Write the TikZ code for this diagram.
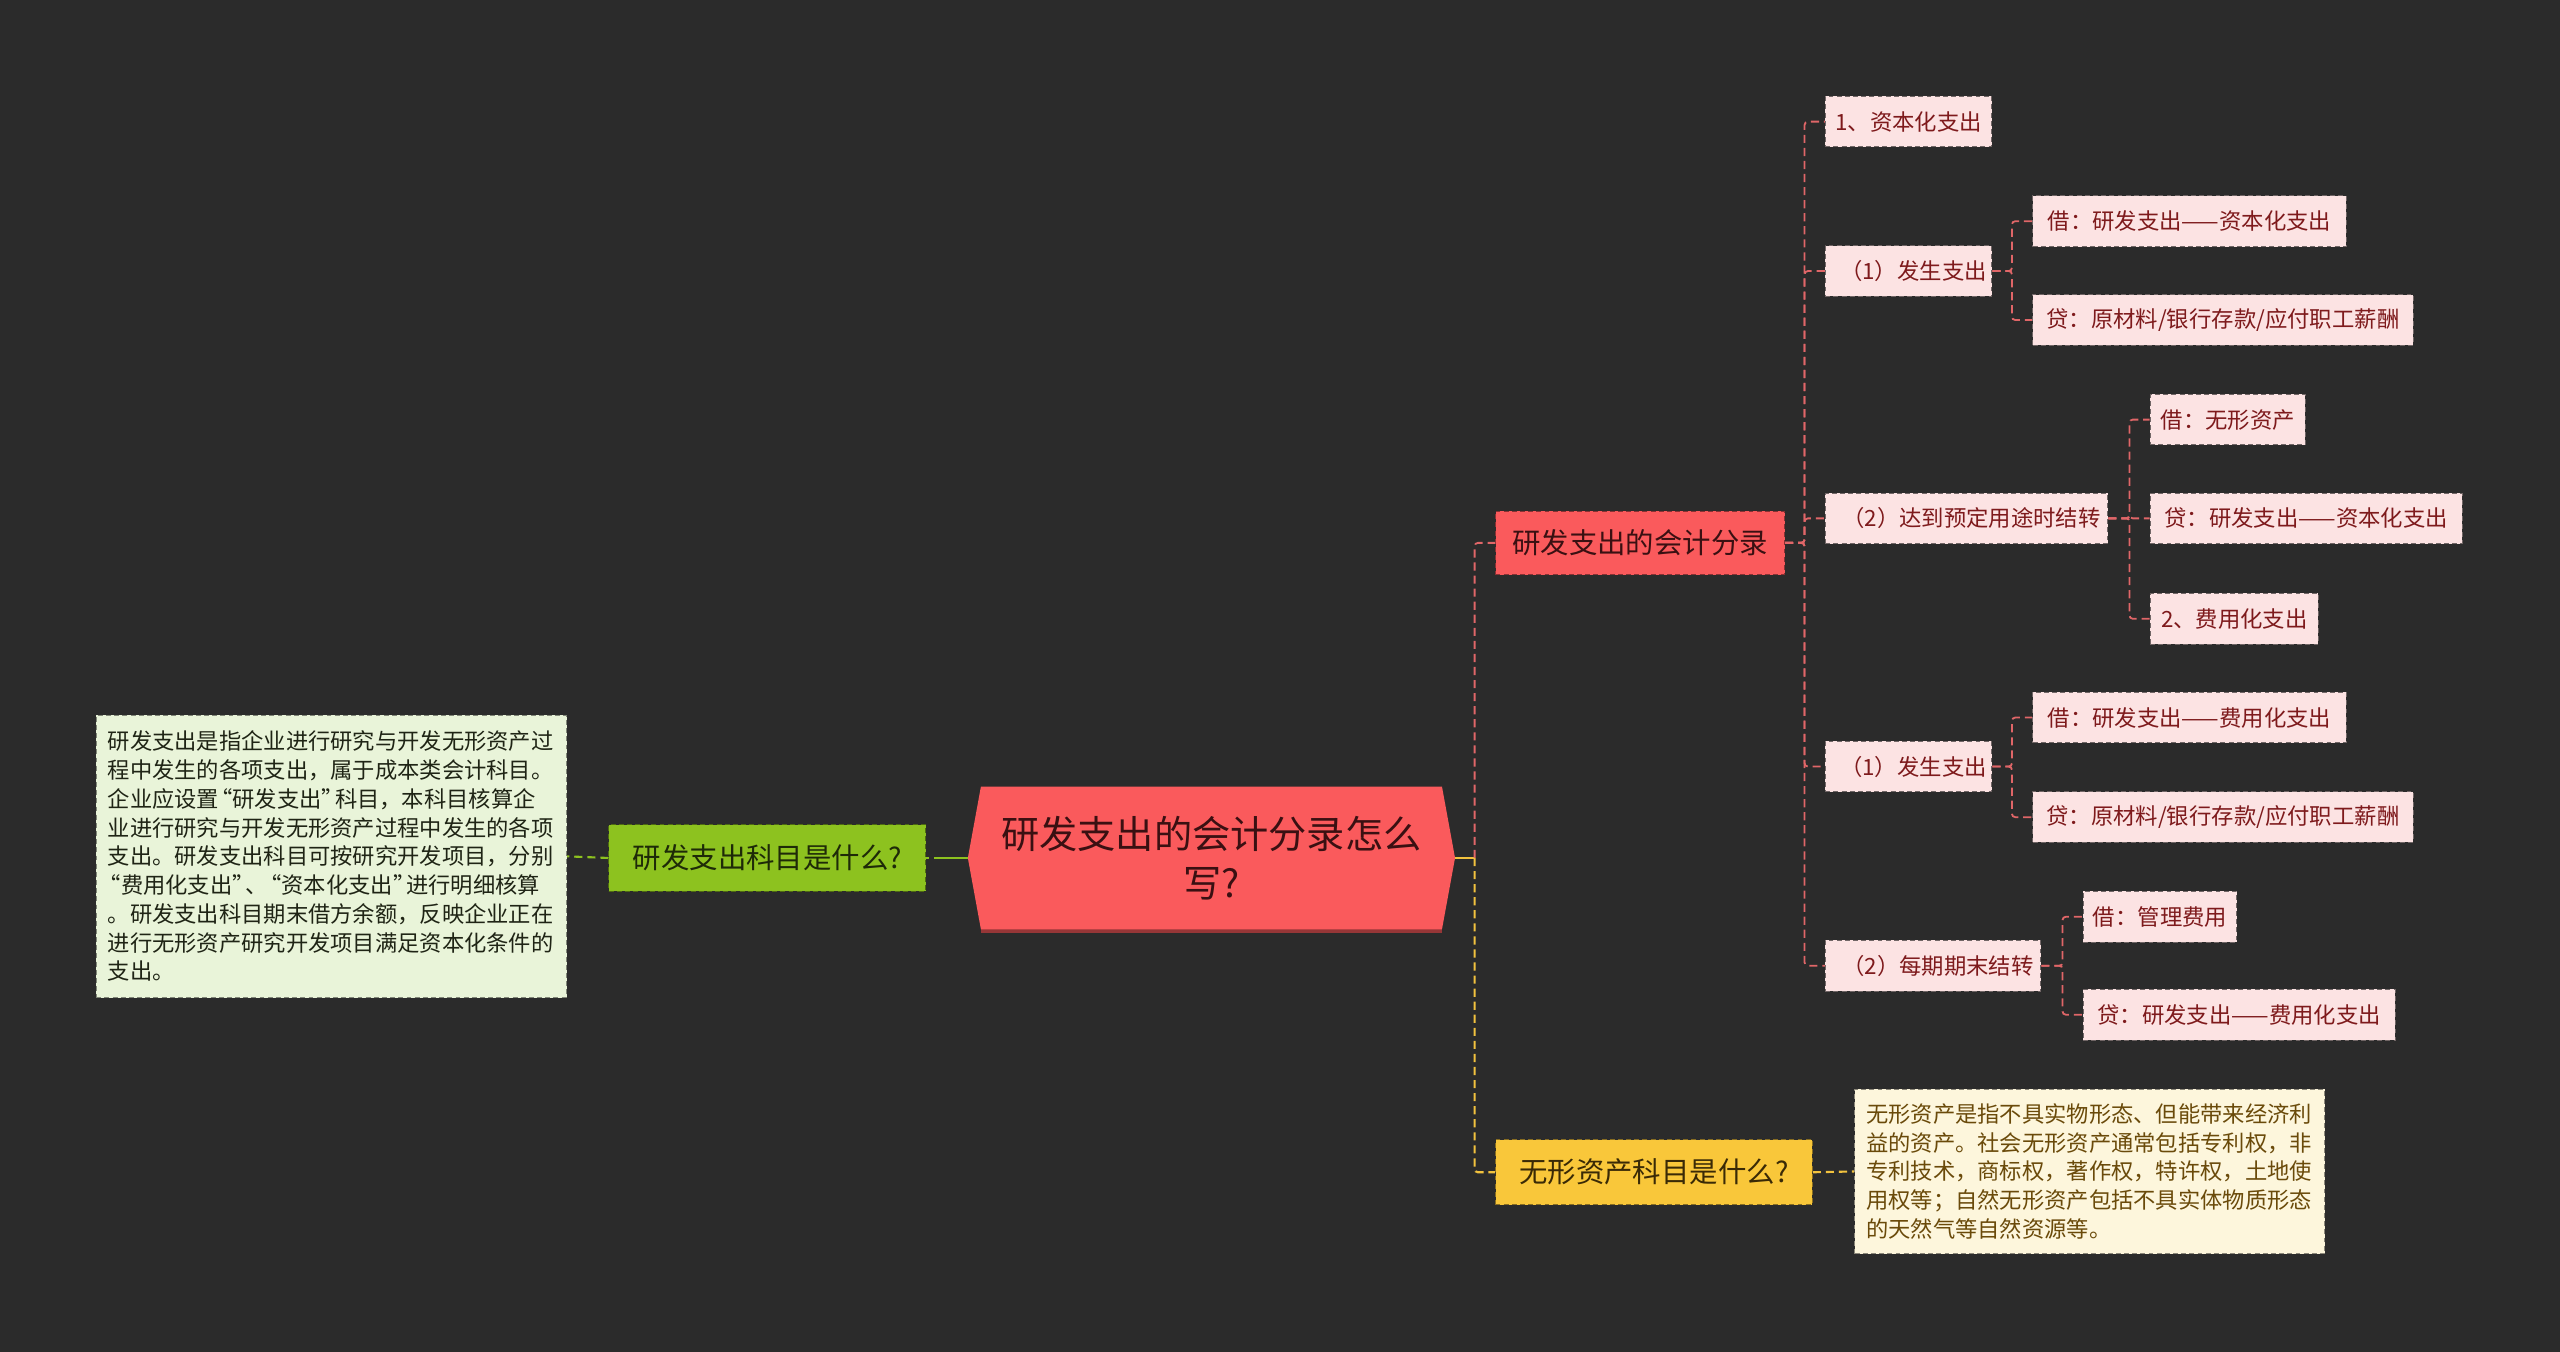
\documentclass[tikz,border=0pt]{standalone}
\usepackage{fontspec}
\setmainfont{Noto Sans CJK SC}
\definecolor{bgc}{HTML}{2B2B2B}
\definecolor{redfill}{HTML}{FA5A5C}
\definecolor{redtext}{HTML}{3A1012}
\definecolor{greenfill}{HTML}{8DC21F}
\definecolor{greentext}{HTML}{1E2A08}
\definecolor{yelfill}{HTML}{F9C73A}
\definecolor{yeltext}{HTML}{3A2A06}
\definecolor{pinkfill}{HTML}{FCE3E3}
\definecolor{pinktext}{HTML}{7E1A1C}
\definecolor{lgfill}{HTML}{E9F4D9}
\definecolor{lgtext}{HTML}{1F2415}
\definecolor{crfill}{HTML}{FDF6DC}
\definecolor{crtext}{HTML}{6A4A0A}
\definecolor{pline}{HTML}{E06668}
\definecolor{gline}{HTML}{8DC21F}
\definecolor{yline}{HTML}{F2C23E}
\newcommand\cqo{\leavevmode\kern-0.4em“}
\newcommand\cqc{”\kern-0.4em}
\pgfdeclarelayer{bglayer}
\pgfsetlayers{bglayer,main}
\tikzset{
  boxbase/.style={rectangle, inner sep=0pt, align=center, dash pattern=on 3pt off 2pt, line width=0.6pt},
  pinkbox/.style={boxbase, draw=pinkfill!45!black, fill=pinkfill, text=pinktext,
     font=\fontsize{13.7}{16}\selectfont, minimum height=31pt},
  lvlred/.style={boxbase, draw=redfill!55!black, fill=redfill, text=redtext,
     font=\fontsize{17.4}{20}\selectfont, minimum height=39pt},
  lvlgreen/.style={boxbase, draw=greenfill!55!black, fill=greenfill, text=greentext,
     font=\fontsize{17.4}{20}\selectfont, minimum height=41pt},
  lvlyel/.style={boxbase, draw=yelfill!55!black, fill=yelfill, text=yeltext,
     font=\fontsize{17.4}{20}\selectfont, minimum height=40pt},
  notebox/.style={boxbase, align=left, font=\fontsize{13.65}{17.6}\selectfont},
  pcon/.style={draw=pline, line width=1.1pt, dash pattern=on 5pt off 3pt, rounded corners=2pt},
  gcon/.style={draw=gline, line width=1.3pt, dash pattern=on 5pt off 3pt},
  ycon/.style={draw=yline, line width=1.3pt, dash pattern=on 5pt off 3pt, rounded corners=2pt},
}
\begin{document}
\begin{tikzpicture}[x=1pt,y=-1pt]
\useasboundingbox (0,0) rectangle (1568,828);

% central
\node[inner sep=0pt, minimum width=298pt, minimum height=87pt, align=center, text=redtext,
      font=\fontsize{23.4}{30}\selectfont] (c) at (742,525.5) {研发支出的会计分录怎么\\写?};
\begin{pgfonlayer}{bglayer}
\fill[bgc] (0,0) rectangle (1568,828);
\fill[redfill!60!black] ([xshift=8pt,yshift=-2pt]c.south west) -- ([xshift=-8pt,yshift=-2pt]c.south east) -- ([xshift=-8pt]c.south east) -- ([xshift=8pt]c.south west) -- cycle;
\fill[redfill] ([xshift=8pt]c.north west) -- ([xshift=-8pt]c.north east) -- (c.east)
   -- ([xshift=-8pt]c.south east) -- ([xshift=8pt]c.south west) -- (c.west) -- cycle;
\end{pgfonlayer}

% left branch
\node[lvlgreen, minimum width=194pt] (g1) at (470,525.5) {研发支出科目是什么?};
\node[notebox, draw=lgfill!55!black, fill=lgfill, text=lgtext, minimum width=288pt, minimum height=173pt, text width=274pt] (gt) at (203,524.5)
{研发支出是指企业进行研究与开发无形资产过\\程中发生的各项支出，属于成本类会计科目。\\企业应设置\cqo 研发支出\cqc 科目，本科目核算企\\业进行研究与开发无形资产过程中发生的各项\\支出。研发支出科目可按研究开发项目，分别\\\cqo 费用化支出\cqc 、\cqo 资本化支出\cqc 进行明细核算\\。研发支出科目期末借方余额，反映企业正在\\进行无形资产研究开发项目满足资本化条件的\\支出。};

% right level 1
\node[lvlred, minimum width=177pt] (r1) at (1004.5,332.5) {研发支出的会计分录};
\node[lvlyel, minimum width=194pt] (y1) at (1013,718) {无形资产科目是什么?};
\node[notebox, draw=crfill!55!black, fill=crfill, text=crtext, minimum width=288pt, minimum height=101pt, text width=274pt] (yt) at (1280,717.5)
{无形资产是指不具实物形态、但能带来经济利\\益的资产。社会无形资产通常包括专利权，非\\专利技术，商标权，著作权，特许权，土地使\\用权等；自然无形资产包括不具实体物质形态\\的天然气等自然资源等。};

% pink nodes
\node[pinkbox, minimum width=102pt] (p1) at (1169,74.5) {1、资本化支出};
\node[pinkbox, minimum width=102pt] (q1) at (1169,166) {\hspace{6pt}（1）发生支出};
\node[pinkbox, minimum width=192pt] (a1) at (1341,135.5) {借：研发支出——资本化支出};
\node[pinkbox, minimum width=233pt] (a2) at (1361.5,196) {贷：原材料/银行存款/应付职工薪酬};
\node[pinkbox, minimum width=173pt] (q2) at (1204.5,317.5) {\hspace{6pt}（2）达到预定用途时结转};
\node[pinkbox, minimum width=95pt] (b1) at (1364.5,257) {借：无形资产};
\node[pinkbox, minimum width=191pt] (b2) at (1412.5,317.5) {贷：研发支出——资本化支出};
\node[pinkbox, minimum width=103pt] (b3) at (1368.5,379) {2、费用化支出};
\node[pinkbox, minimum width=102pt] (q3) at (1169,469.5) {\hspace{6pt}（1）发生支出};
\node[pinkbox, minimum width=192pt] (c1) at (1341,439.5) {借：研发支出——费用化支出};
\node[pinkbox, minimum width=233pt] (c2) at (1361.5,500.5) {贷：原材料/银行存款/应付职工薪酬};
\node[pinkbox, minimum width=132pt] (q4) at (1184,591.5) {\hspace{6pt}（2）每期期末结转};
\node[pinkbox, minimum width=94pt] (d1) at (1323,561.5) {借：管理费用};
\node[pinkbox, minimum width=191pt] (d2) at (1371.5,621.5) {贷：研发支出——费用化支出};

% connectors: center
\draw[draw=yline, line width=1.3pt] (c.east) -- ([xshift=12pt]c.east);
\draw[pcon] ([xshift=12pt]c.east) |- (r1.west);
\draw[ycon] ([xshift=12pt]c.east) |- (y1.west);
\draw[draw=gline, line width=1.3pt] (c.west) -- ([xshift=-16pt]c.west);
\draw[gcon] ([xshift=-16pt]c.west) -- (g1.east);
\draw[gcon] (g1.west) -- (gt.east);
\draw[ycon] (y1.east) -- (yt.west);

% connectors: level 2
\foreach \t in {p1,q1,q2,q3,q4}{
  \draw[pcon] (r1.east) -- ++(12pt,0) |- (\t.west);
}
\foreach \t in {a1,a2}{ \draw[pcon] (q1.east) -- ++(12pt,0) |- (\t.west); }
\foreach \t in {b1,b2,b3}{ \draw[pcon] (q2.east) -- ++(13pt,0) |- (\t.west); }
\foreach \t in {c1,c2}{ \draw[pcon] (q3.east) -- ++(12pt,0) |- (\t.west); }
\foreach \t in {d1,d2}{ \draw[pcon] (q4.east) -- ++(13pt,0) |- (\t.west); }
\end{tikzpicture}
\end{document}
